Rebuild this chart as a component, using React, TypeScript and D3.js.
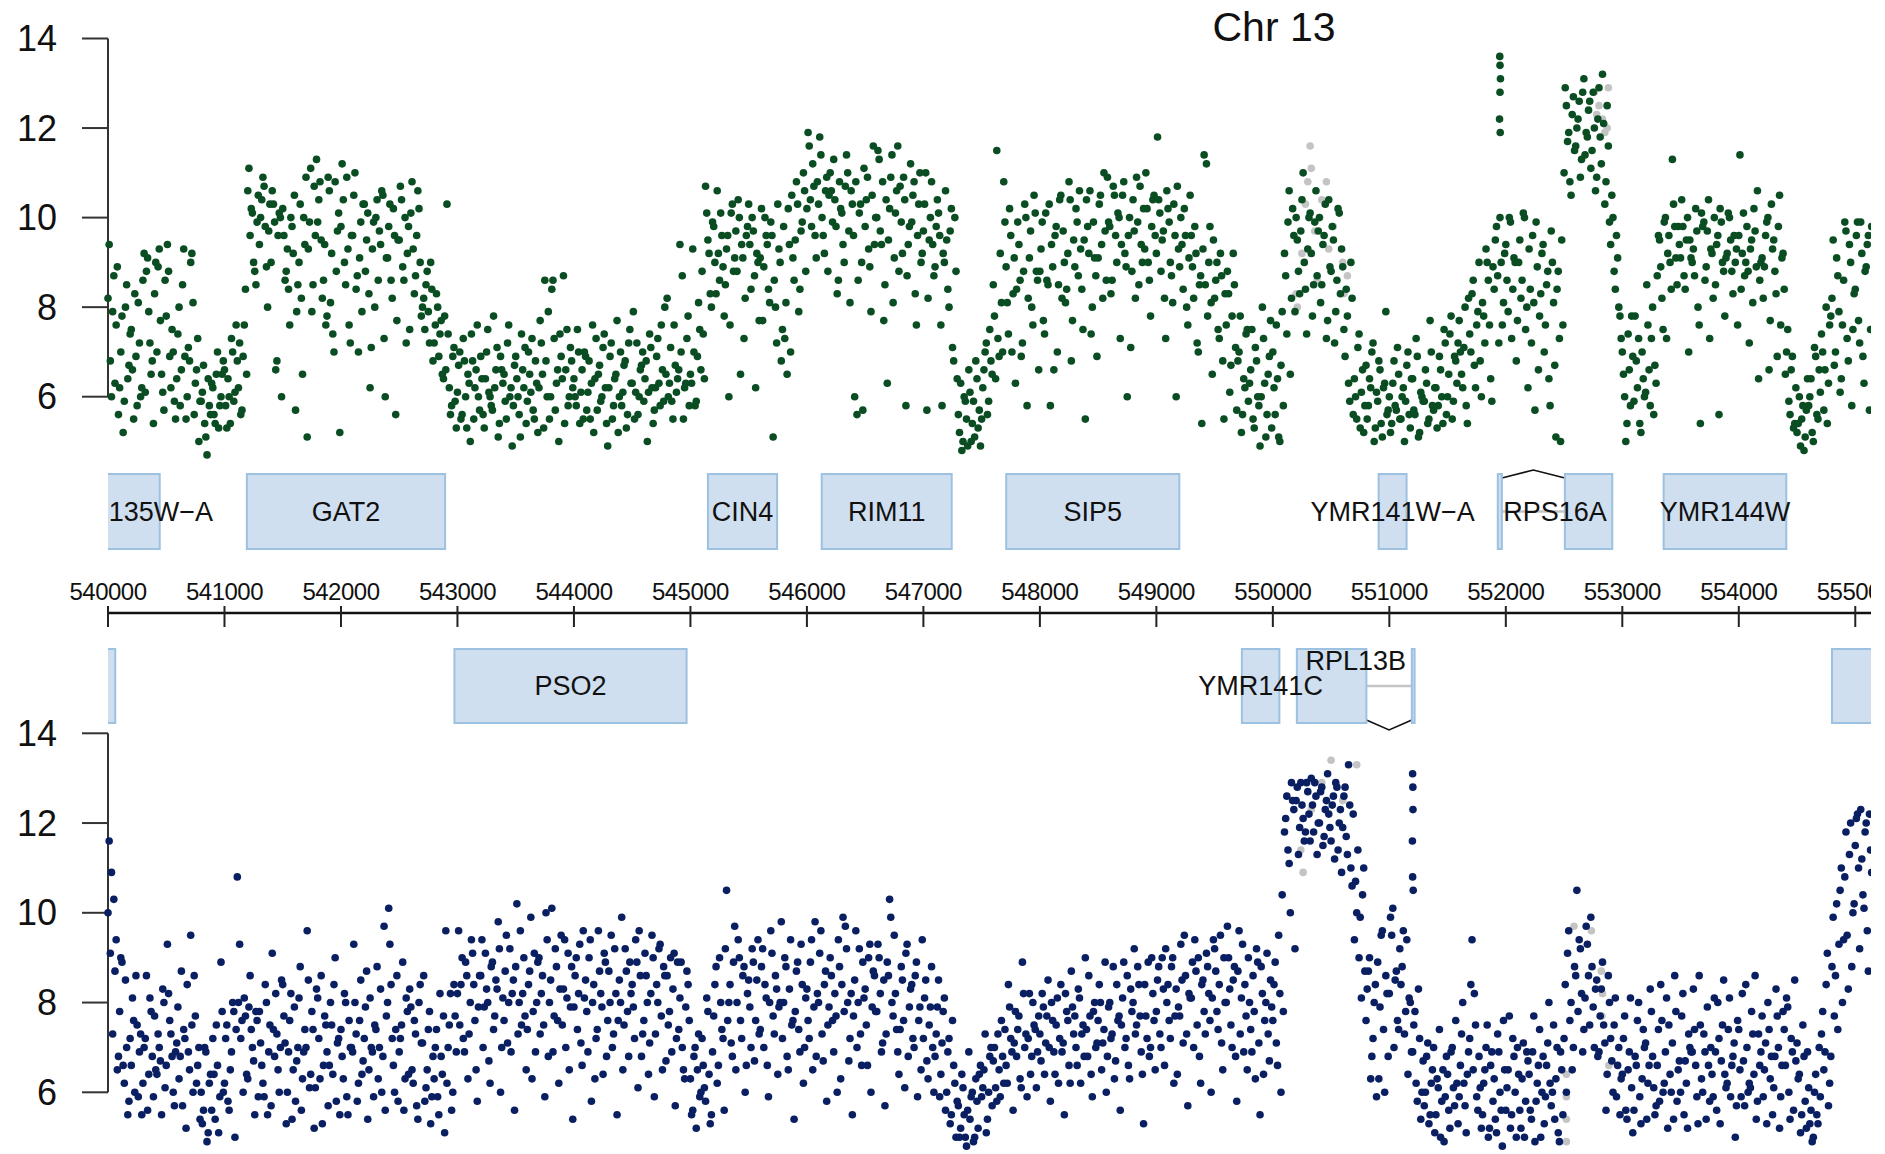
import React from "react";
import * as d3 from "d3";

// ---------- data ----------
const title = "Chr 13";
const xTickValues = [540000, 541000, 542000, 543000, 544000, 545000, 546000, 547000, 548000, 549000, 550000, 551000, 552000, 553000, 554000, 555000];
const yTickValues = [6, 8, 10, 12, 14];

// Watson strand (green) probe intensities, one array per 1 kb window, probe set A (odd grid)
const plus540 = [9.4,6.0,8.7,7.6,5.6, 7.0,5.2,8.0,6.4,7.4, 6.6,8.3,5.8,7.2,6.2, 9.2,8.8,7.9,6.5,5.4, 9.0,8.9,7.7,6.1,8.6, 9.4,6.9,7.5,5.9,6.4, 8.0,6.6,9.3,5.5,7.1, 9.0,8.1,6.3,7.3,5.9, 6.1,5.4,4.7,5.8,6.3, 5.6,6.5,5.3,6.0,6.8];
const plus541 = [5.8,6.4,5.4,7.0,6.1, 6.8,7.2,5.7,7.6,6.5, 11.1,10.2,9.0,8.5,10.5, 10.0,10.9,9.8,8.0,10.3, 10.6,9.9,6.8,10.1,6.0, 9.6,8.8,8.4,10.0,9.2, 5.7,8.5,10.3,6.5,9.4, 5.1,9.9,7.9,10.7,11.3, 10.4,9.5,8.6,7.6,10.9, 8.1,7.4,10.8,9.7,5.2];
const plus542 = [11.2,9.0,10.9,7.6,9.6, 10.5,8.4,7.0,9.9,10.3, 8.8,10.1,6.2,9.3,8.0, 10.4,9.7,10.6,7.3,9.1, 9.8,8.6,10.2,5.6,9.5, 10.7,8.9,10.0,9.2,7.5, 10.8,8.3,9.6,10.2,7.8, 8.2,8.5,7.9,9.0,6.8, 7.6,8.0,7.4,6.5,7.8, 10.3,6.2,5.8,7.1,5.3];
const plus543 = [6.7,5.5,7.3,6.0,6.5, 5.0,6.8,6.2,7.6,5.7, 6.4,5.3,7.0,6.1,5.8, 7.8,6.6,5.1,6.9,6.3, 5.9,7.2,6.0,4.9,6.7, 6.4,5.6,7.4,6.2,5.4, 7.0,6.1,5.7,6.8,5.2, 7.7,6.5,8.6,6.0,5.5, 8.4,7.3,6.3,5.0,6.9, 8.7,6.6,5.8,7.1,6.2];
const plus544 = [6.0,7.5,5.4,6.6,7.0, 5.7,6.8,6.3,5.2,7.3, 6.5,5.9,7.1,6.2,4.9, 6.9,5.5,6.4,7.7,6.0, 5.8,6.7,5.3,7.2,6.3, 7.9,6.1,5.6,6.6,7.0, 6.4,5.0,7.4,6.2,5.7, 6.9,6.3,7.6,5.9,6.5, 6.0,7.1,5.5,6.7,6.4, 9.4,8.7,6.2,7.3,5.8];
const plus545 = [6.3,7.0,5.9,8.1,6.6, 7.4,10.7,9.5,8.3,9.9, 9.0,10.6,8.6,9.6,7.8, 9.3,6.0,10.1,8.8,9.7, 10.4,6.5,9.1,8.2,9.8, 9.4,10.0,8.7,9.2,7.7, 10.2,8.9,9.6,8.4,9.9, 5.1,8.0,10.3,9.0,7.5, 7.3,6.5,9.4,10.5,8.6, 10.8,7.9,9.7,11.0,8.8];
const plus546 = [11.9,10.4,11.2,9.6,10.8, 11.8,10.0,9.2,10.9,10.5, 10.6,11.3,9.8,8.6,10.2, 9.4,10.7,11.0,8.1,10.3, 6.0,5.6,10.1,9.0,11.1, 10.4,9.3,7.9,11.6,10.0, 11.5,9.7,10.8,8.5,6.3, 10.2,11.4,9.1,10.6,8.8, 9.9,10.9,5.8,9.4,11.2, 10.5,8.3,9.6,11.0,9.2];
const plus547 = [10.3,5.7,9.5,10.8,8.7, 9.8,10.1,7.6,9.2,10.6, 8.4,9.7,7.1,10.0,6.4, 5.2,4.8,6.0,5.5,6.6, 5.0,5.9,6.8,5.3,4.9, 6.2,7.0,5.6,7.5,6.5, 7.8,11.5,6.9,8.1,10.8, 8.9,7.4,9.6,8.3,6.3, 9.9,8.6,7.2,10.3,5.8, 9.1,8.0,10.5,8.8,6.6];
const plus548 = [9.3,7.7,10.1,8.5,5.8, 8.9,9.6,7.0,10.4,8.2, 9.0,8.4,10.8,6.8,9.5, 10.2,8.7,9.3,7.5,5.5, 9.8,10.6,8.0,9.1,6.9, 10.3,9.4,11.0,8.6,9.9, 8.3,10.7,9.6,10.1,7.3, 10.5,9.2,6.0,10.0,8.8, 9.7,10.9,8.5,9.4,10.2, 11.0,9.0,7.8,10.4,9.6];
const plus549 = [11.8,10.1,9.5,8.2,10.6, 9.9,8.7,10.3,6.0,9.3, 10.0,8.4,9.6,7.6,10.5, 8.9,9.8,7.2,8.5,5.4, 11.4,11.2,9.0,8.1,9.5, 8.6,7.5,9.2,6.8,8.3, 8.8,6.1,7.8,8.5,5.7, 7.0,5.2,6.4,7.4,5.9, 6.6,5.5,7.1,6.0,4.9, 8.0,6.3,5.6,6.9,5.3];
const plus550 = [6.2,7.6,5.1,6.7,5.8, 8.7,9.9,6.5,10.2,7.9, 9.5,8.3,10.4,9.0,7.4, 10.0,9.2,8.5,10.6,9.7, 8.1,9.4,10.3,7.7,8.9, 9.8,7.2,8.6,10.1,9.3, 7.5,8.4,6.3,9.0,5.6, 6.0,7.1,5.3,6.6,5.8, 5.5,6.4,7.0,5.0,6.1, 6.8,5.4,6.2,7.9,5.7];
const plus551 = [5.2,6.3,5.8,7.1,5.5, 6.0,5.0,6.7,5.6,6.4, 5.7,7.3,5.1,6.1,5.9, 6.6,5.4,7.7,5.8,6.2, 5.3,6.9,6.0,7.5,5.6, 6.5,7.8,5.9,6.8,7.2, 7.0,6.2,8.0,5.4,7.4, 8.3,6.7,7.6,9.0,6.0, 7.8,9.3,8.6,6.4,8.9, 9.5,8.7,10.0,7.6,9.2];
const plus552 = [8.6,10.0,7.3,9.1,6.8, 9.0,8.2,10.1,7.5,6.2, 8.4,9.6,5.7,8.9,7.8, 9.2,7.0,8.5,6.4,9.7, 8.1,5.1,8.8,5.0,7.6, 12.9,11.7,10.8,12.3,11.5, 12.0,12.6,11.3,13.1,11.9, 12.4,11.1,12.8,10.6,12.2, 11.8,13.2,10.3,12.5,9.9, 10.5,8.8,9.6,8.0,7.3];
const plus553 = [6.5,5.0,7.4,5.8,6.9, 7.8,6.2,5.4,7.0,6.0, 8.5,6.6,7.3,5.6,6.3, 9.6,8.9,7.5,10.0,9.2, 9.0,11.3,9.8,8.5,9.4, 10.4,8.7,9.5,7.0,9.1, 9.3,10.2,8.0,5.4,9.8, 8.6,9.7,7.3,9.2,10.0, 9.4,5.6,9.9,8.8,9.1, 10.1,9.5,8.3,9.0,7.6];
const plus554 = [11.4,9.2,8.7,9.8,7.2, 9.5,10.2,8.9,6.4,9.0, 8.2,9.6,10.0,7.7,9.3, 8.8,6.9,10.5,9.1,8.4, 7.0,5.9,6.6,5.3,6.2, 5.4,4.9,5.8,5.1,6.4, 6.0,5.2,7.1,5.6,6.6, 7.4,5.7,8.0,6.3,7.8, 9.5,7.0,8.7,6.1,7.6, 9.9,7.3,9.4,5.8,8.3];
const plus555 = [9.6,7.7,9.9,6.9,8.8,9.4,5.7,9.8];

// Watson strand, probe set B (even grid)
const plus540b = [8.2,6.8,7.9,6.3,8.9, 6.2,7.8,5.9,8.5,6.7, 7.5,5.5,6.9,8.1,6.0, 8.6,6.1,9.1,7.2,6.8, 8.3,7.0,9.3,6.5,5.7, 7.8,8.8,6.2,7.0,5.5, 7.4,5.8,8.5,6.9,6.0, 6.8,9.2,5.6,6.6,5.0, 5.9,6.7,5.1,6.4,5.6, 6.2,5.4,7.0,5.8,6.5];
const plus541b = [6.6,5.3,6.0,7.3,5.9, 7.6,6.2,5.6,6.9,8.4, 10.6,9.6,10.1,8.8,9.9, 9.4,10.4,10.7,8.9,9.7, 9.0,10.3,6.6,9.6,10.0, 10.2,8.6,9.3,7.6,9.8, 10.5,7.9,9.0,8.2,10.0, 10.9,9.3,11.1,8.5,9.6, 9.9,10.8,8.2,9.4,7.8, 10.6,9.2,7.0,8.8,10.1];
const plus542b = [9.8,10.4,8.5,9.3,7.2, 9.6,11.0,8.7,9.1,7.9, 10.3,9.5,8.3,7.1,9.9, 10.0,8.6,9.4,10.5,6.0, 9.1,10.3,8.2,9.6,7.7, 9.5,10.4,8.6,7.2,9.8, 10.1,9.3,8.7,10.6,9.0, 8.0,7.5,8.8,7.2,8.4, 7.2,8.3,6.9,7.7,6.4, 6.6,7.4,5.6,6.9,5.9];
const plus543b = [6.1,7.0,5.6,6.8,5.3, 6.3,7.4,5.5,6.6,6.0, 6.9,5.6,6.4,7.5,6.0, 5.7,6.2,7.1,5.4,6.6, 6.5,5.5,7.6,6.2,5.8, 6.9,6.0,5.1,6.6,7.1, 5.9,6.5,7.3,5.5,6.3, 6.2,7.2,5.3,6.8,7.9, 6.0,8.6,5.7,6.6,7.4, 6.4,5.4,7.5,6.0,6.8];
const plus544b = [6.4,5.8,7.0,6.1,5.5, 6.9,6.1,5.5,7.6,6.4, 5.7,6.7,6.0,7.4,5.4, 6.2,7.2,5.8,6.5,5.2, 7.0,6.1,6.8,5.6,7.5, 6.3,5.5,7.2,6.0,6.7, 5.9,6.8,6.1,7.1,5.4, 6.2,7.3,5.8,6.6,8.0, 8.2,6.3,5.9,7.6,6.1, 6.6,7.0,5.5,6.3,7.8];
const plus545b = [6.5,9.3,5.8,6.9,7.5, 8.8,6.4,10.1,9.2,8.0, 9.8,8.3,9.2,10.1,8.9, 8.5,9.6,7.6,10.3,9.1, 8.8,10.0,9.4,7.3,9.6, 10.3,8.4,9.7,6.2,9.0, 9.1,7.7,10.0,9.4,8.1, 9.6,8.6,7.2,9.3,6.8, 9.8,8.1,10.2,7.0,9.1, 9.5,10.3,8.4,9.9,10.6];
const plus546b = [10.2,11.6,9.8,10.7,9.1, 10.3,11.4,9.6,10.6,8.8, 11.0,9.9,10.4,8.3,10.8, 10.1,9.0,11.4,9.7,10.6, 9.6,10.8,8.6,10.3,5.7, 9.8,10.9,8.9,10.5,9.4, 10.0,11.3,9.4,7.7,10.4, 9.5,10.9,8.1,10.1,11.6, 10.7,9.2,10.4,8.7,9.8, 9.9,10.8,7.6,10.3,9.0];
const plus547b = [9.7,11.0,8.2,10.0,9.4, 8.9,10.4,9.6,5.8,9.0, 9.5,8.0,10.2,6.8,8.8, 5.6,6.3,5.0,5.9,4.9, 6.1,5.4,5.1,6.4,5.7, 5.5,6.6,7.2,5.9,6.8, 8.5,6.4,7.3,9.2,7.0, 9.9,8.1,10.2,7.0,9.1, 8.4,9.4,6.9,8.8,10.0, 8.2,9.7,7.6,10.1,8.6];
const plus548b = [8.8,9.9,7.4,8.6,10.3, 9.4,6.6,9.8,8.5,10.5, 9.7,8.1,9.2,10.4,7.7, 8.9,9.9,10.6,8.4,9.5, 10.4,9.2,7.4,9.9,8.7, 9.1,10.5,8.2,9.7,10.9, 9.8,8.6,10.5,9.0,10.0, 9.4,10.8,8.9,9.6,7.1, 10.4,8.2,9.9,10.7,9.0, 9.3,10.2,8.6,9.8,10.5];
const plus549b = [9.2,10.4,8.8,9.7,7.3, 10.2,9.0,8.1,9.6,10.7, 8.9,9.4,10.2,8.0,9.1, 9.6,8.2,9.2,7.0,8.7, 9.3,8.5,7.8,9.8,6.5, 8.2,9.0,7.3,8.7,5.5, 7.6,8.3,6.7,9.2,7.1, 6.8,7.8,5.6,6.2,7.5, 6.3,7.5,5.3,6.8,5.8, 6.0,7.3,5.1,6.5,7.7];
const plus550b = [7.0,5.6,6.4,5.0,7.9, 9.2,7.4,10.6,8.2,9.6, 10.0,8.8,9.7,11.0,8.4, 9.3,10.1,7.8,9.9,8.7, 10.0,8.5,9.6,7.3,10.4, 8.8,9.5,7.9,10.2,8.3, 8.9,6.9,7.8,5.9,8.2, 6.4,5.5,7.4,6.1,5.2, 6.7,5.8,6.2,7.2,5.3, 5.9,6.6,5.1,6.3,5.6];
const plus551b = [6.0,5.4,6.8,5.7,6.5, 5.5,6.2,5.9,7.0,5.3, 6.4,5.6,6.9,5.2,6.0, 5.9,6.3,5.5,7.0,5.7, 6.2,5.8,6.6,5.4,7.2, 6.0,7.4,5.5,6.9,6.3, 7.7,6.5,7.1,5.8,8.2, 7.0,8.6,6.2,7.9,6.8, 8.1,7.2,9.0,7.6,5.9, 8.4,9.8,7.2,9.0,8.1];
const plus552b = [9.4,7.9,9.9,8.4,9.0, 7.7,9.5,8.6,10.0,8.0, 9.3,7.2,8.1,9.9,6.6, 8.3,9.4,7.6,8.8,5.8, 9.0,6.7,8.4,7.3,9.5, 11.0,12.5,11.9,10.5,12.7, 11.6,12.2,10.9,12.8,11.4, 11.8,12.6,11.5,12.0,10.9, 12.9,11.2,12.1,10.8,11.6, 9.4,10.0,8.4,9.1,7.8];
const plus553b = [7.0,6.0,5.4,6.6,7.8, 5.9,6.8,7.3,5.2,6.4, 6.1,7.6,5.8,8.0,6.7, 8.7,9.5,8.2,9.9,7.3, 9.6,8.4,10.3,9.1,9.8, 9.1,9.8,8.4,10.0,9.5, 9.0,8.7,9.7,7.6,10.1, 9.9,8.9,10.4,9.3,8.2, 8.5,9.6,10.2,9.0,7.8, 9.2,10.0,8.8,9.6,9.3];
const plus554b = [9.6,8.4,10.1,9.0,8.8, 9.3,8.1,9.7,10.6,8.6, 9.1,8.9,9.9,6.6,10.3, 9.5,8.3,9.8,7.6,9.2, 6.5,7.5,5.6,6.9,5.4, 5.2,6.0,5.5,4.8,5.7, 5.8,6.4,5.0,6.9,5.5, 6.1,7.0,6.6,5.4,7.6, 8.2,6.7,9.1,7.9,6.4, 8.6,9.7,6.8,9.0,7.5];
const plus555b = [8.4,9.9,7.2,9.2,6.3,8.9,9.6,7.5];

// Crick strand (navy) probe intensities, set A
const minus540 = [11.6,10.9,10.3,9.4,6.8, 9.0,6.6,8.5,5.5,7.2, 8.1,6.0,7.5,6.9,5.5, 7.0,8.6,6.4,7.8,5.9, 6.5,7.3,6.7,8.3,6.1, 9.3,7.6,6.8,5.7,7.1, 6.3,8.7,7.4,5.2,6.9, 9.5,6.0,7.7,6.6,5.4, 5.3,7.0,4.9,6.2,5.6, 6.4,7.5,5.1,8.9,6.0];
const minus541 = [7.2,5.8,6.5,8.0,5.0, 10.8,9.3,7.6,8.1,6.4, 7.9,7.4,6.7,7.8,5.9, 7.1,6.2,8.4,5.5,7.5, 9.1,6.8,7.3,6.0,8.5, 7.7,5.3,6.9,8.2,6.5, 5.8,7.0,8.8,6.3,7.4, 9.6,6.1,7.8,5.2,8.3, 7.2,8.6,6.6,7.5,5.7, 8.0,6.4,9.0,7.1,5.5];
const minus542 = [6.8,8.2,5.9,7.6,7.0, 9.3,7.3,6.2,8.5,6.7, 7.9,5.4,8.1,6.9,7.5, 8.8,7.0,6.0,9.7,7.7, 10.1,8.4,6.6,7.4,5.8, 7.2,8.9,6.3,7.8,8.3, 6.5,7.6,5.7,8.0,7.1, 8.6,6.1,7.4,5.3,6.8, 7.0,5.9,8.2,6.4,5.1, 6.2,7.5,5.6,8.4,6.9];
const minus543 = [9.6,8.4,7.2,8.9,6.3, 8.0,9.1,7.6,5.8,8.6, 9.4,7.9,8.3,6.7,8.8, 7.4,8.5,9.8,6.0,8.1, 8.7,7.1,9.2,8.2,5.6, 10.2,8.0,7.5,9.0,6.5, 8.4,9.9,7.8,6.9,8.9, 7.3,8.6,5.9,9.4,8.0, 10.1,7.7,8.8,6.2,9.5, 8.3,7.0,9.1,7.9,5.4];
const minus544 = [8.6,7.4,9.3,6.6,8.1, 7.8,9.0,5.8,8.4,7.2, 9.6,8.2,6.4,8.9,7.6, 8.0,7.0,9.2,5.5,8.5, 9.9,7.5,8.7,6.8,8.2, 7.9,9.4,6.1,8.6,7.3, 9.1,8.0,7.1,9.5,5.9, 8.4,9.2,7.7,8.8,6.7, 7.5,9.0,8.3,5.7,8.9, 8.1,7.0,6.3,8.7,7.6];
const minus545 = [5.5,6.8,5.2,7.3,6.0, 6.6,5.8,7.8,5.3,6.9, 8.4,6.2,9.0,7.4,5.6, 10.5,8.0,7.1,8.9,6.5, 9.4,7.6,8.6,6.0,8.2, 7.9,9.2,6.7,8.5,7.3, 8.8,7.0,8.1,5.9,9.6, 7.7,8.6,6.4,8.0,7.2, 9.0,6.8,8.3,7.5,5.4, 8.7,7.4,9.3,6.2,8.1];
const minus546 = [7.6,8.9,6.5,9.8,8.2, 9.1,7.3,8.4,5.8,7.9, 8.6,6.9,7.7,9.4,6.3, 9.9,9.7,8.0,7.2,5.5, 8.5,7.0,9.2,6.6,8.1, 7.5,9.0,6.0,8.7,7.8, 9.3,8.2,7.1,5.7,8.9, 10.3,8.0,9.5,7.4,6.4, 8.8,7.6,9.1,6.8,8.3, 7.2,8.6,5.9,7.9,9.4];
const minus547 = [8.1,6.7,7.5,8.8,6.0, 7.3,8.5,6.4,7.8,5.6, 6.9,5.3,7.6,6.2,5.8, 5.0,6.4,5.5,4.8,6.9, 5.9,4.9,6.3,5.2,6.6, 6.1,7.3,5.4,6.8,5.7, 7.0,5.8,6.5,7.6,6.2, 6.6,8.4,7.2,5.6,7.8, 7.4,6.3,8.9,7.0,5.9, 8.2,6.8,7.5,6.1,7.7];
const minus548 = [6.7,7.9,7.1,8.5,5.8, 7.6,6.4,8.1,7.2,6.9, 5.5,7.8,6.6,8.7,7.3, 7.0,8.3,6.2,7.5,9.0, 6.8,7.7,5.9,8.0,7.1, 8.4,6.5,7.4,6.0,7.9, 7.2,8.8,6.7,7.6,5.6, 8.1,7.0,8.6,6.3,7.8, 9.2,7.5,8.4,6.9,5.3, 7.7,8.9,7.0,8.2,6.5];
const minus549 = [8.5,7.3,9.0,6.6,8.0, 7.6,8.8,6.2,8.3,7.9, 9.3,7.1,8.6,5.7,8.1, 8.9,9.4,7.5,6.8,8.4, 7.8,9.1,8.2,6.0,9.4, 8.7,7.4,9.5,6.5,8.0, 9.7,8.3,7.0,8.8,5.8, 9.6,8.1,6.9,7.7,9.0, 7.4,8.6,6.3,8.9,5.5, 8.2,7.6,9.1,6.7,7.9];
const minus550 = [8.4,7.1,9.5,6.0,7.8, 12.1,11.4,10.0,12.5,9.2, 12.8,11.9,12.4,11.6,12.9, 12.2,13.0,11.8,12.6,12.0, 12.7,11.5,12.3,13.1,11.9, 12.4,11.2,12.8,12.0,10.9, 12.6,11.7,13.3,11.0,12.2, 10.7,11.4,9.9,10.4,8.7, 8.3,9.0,6.8,8.0,5.9, 6.3,9.5,7.4,8.6,6.8];
const minus551 = [9.9,10.1,8.5,7.6,9.2, 8.8,7.3,9.4,8.1,6.9, 7.5,6.2,8.3,5.4,6.7, 6.0,7.1,5.5,6.5,5.1, 6.3,7.4,5.8,4.9,6.8, 5.6,6.9,6.1,7.6,5.3, 6.6,8.0,5.7,6.4,7.2, 9.4,8.2,5.9,6.8,5.2, 6.2,7.0,5.0,6.6,5.8, 5.4,7.3,6.0,4.8,6.5];
const minus552 = [6.1,7.7,5.5,6.8,5.0, 6.4,5.2,7.1,5.8,6.7, 5.6,6.9,4.9,6.2,7.4, 6.0,5.3,6.6,8.0,5.7, 7.5,6.3,5.1,6.9,5.5, 8.4,9.1,7.6,6.5,8.8, 10.5,9.4,8.2,7.4,9.7, 8.6,9.9,7.9,8.3,6.8, 7.7,8.9,7.1,6.4,8.0, 6.7,7.5,5.9,7.0,6.3];
const minus553 = [7.2,5.6,6.5,8.1,5.1, 6.8,7.6,5.9,6.3,7.0, 5.4,6.6,7.8,6.1,5.7, 7.4,8.4,6.0,6.9,5.2, 6.4,7.1,8.6,5.8,6.7, 7.7,5.5,6.2,7.3,6.9, 8.3,6.6,5.3,7.5,6.0, 6.9,7.9,5.8,6.4,8.1, 5.6,7.2,6.7,8.5,6.1, 7.4,5.9,6.8,5.0,7.6];
const minus554 = [6.5,8.2,5.7,7.0,6.2, 7.8,6.4,5.4,7.3,6.9, 5.9,7.1,8.0,6.3,5.5, 6.8,7.7,5.2,6.6,7.4, 8.1,6.0,7.2,5.6,6.7, 6.3,5.1,7.5,5.8,6.9, 5.3,4.9,6.0,5.5,7.0, 7.3,6.5,8.4,5.7,6.8, 9.9,8.6,7.4,10.5,8.0, 10.8,9.5,11.3,8.8,10.2];
const minus555 = [12.1,11.0,12.3,10.4,11.8,9.6,12.2,10.9];

// Crick strand, probe set B
const minus540b = [10.0,9.1,7.3,8.7,6.5, 7.8,8.9,6.2,7.0,5.8, 6.6,7.6,8.6,5.9,7.3, 6.2,7.2,5.6,8.1,6.8, 7.7,6.4,7.0,5.5,8.0, 6.6,8.2,7.3,6.0,6.9, 7.9,6.8,5.7,7.2,8.4, 6.5,7.5,8.6,6.2,7.0, 6.0,5.6,6.9,5.1,6.4, 7.2,5.4,6.6,5.9,7.8];
const minus541b = [6.2,7.5,5.6,6.9,7.8, 7.4,8.0,7.2,6.0,7.7, 6.3,8.6,7.0,5.5,7.6, 7.8,6.6,5.9,8.0,6.9, 5.7,7.4,8.2,6.5,7.0, 8.4,7.1,6.0,7.6,5.4, 7.9,6.7,8.1,5.6,6.9, 7.0,8.5,6.4,7.4,6.1, 8.1,6.3,5.3,7.7,6.9, 6.6,7.5,8.4,5.8,7.2];
const minus542b = [7.4,6.3,8.0,5.5,7.0, 6.9,8.0,5.8,7.6,6.4, 7.2,8.7,6.5,7.0,5.9, 7.4,6.3,8.3,6.8,5.6, 8.0,9.3,7.2,6.0,8.6, 6.9,7.5,5.6,8.1,6.4, 7.9,6.2,7.3,5.4,8.4, 7.1,5.8,6.5,7.8,5.9, 6.3,7.4,5.5,6.8,7.7, 9.6,7.0,8.2,6.0,7.7];
const minus543b = [8.2,7.5,9.0,6.9,8.6, 7.3,9.4,8.4,6.5,7.9, 8.6,7.0,9.1,8.0,6.2, 8.9,7.7,8.3,9.2,7.0, 7.6,9.5,8.0,6.9,8.5, 8.8,7.3,9.6,8.2,7.7, 7.4,8.7,6.3,9.1,8.0, 9.0,8.2,7.5,10.0,6.8, 8.5,6.9,9.2,7.6,8.3, 7.5,9.4,8.1,6.5,8.8];
const minus544b = [7.9,9.0,8.2,7.1,9.6, 8.5,6.9,9.4,8.0,6.3, 7.4,8.7,7.9,9.1,6.8, 8.7,9.5,7.3,8.2,7.6, 8.0,6.5,9.2,7.8,8.9, 8.4,7.2,8.9,9.6,6.8, 7.6,8.6,6.4,8.2,9.0, 7.3,8.0,9.3,6.5,8.6, 8.6,7.8,6.9,9.1,7.2, 7.4,8.9,6.5,7.9,8.4];
const minus545b = [6.3,5.6,7.0,6.5,5.9, 7.2,6.1,8.1,6.4,5.5, 7.7,8.8,6.6,8.0,7.2, 9.2,7.6,8.4,6.8,9.7, 8.0,9.0,7.2,8.8,6.6, 8.5,7.0,8.9,7.6,9.4, 7.4,9.2,8.4,6.6,8.0, 9.1,7.3,8.3,7.9,9.8, 8.0,8.8,6.5,9.4,7.6, 7.8,8.9,6.9,8.4,7.0];
const minus546b = [8.3,7.2,9.4,7.9,6.8, 8.0,9.6,6.7,8.7,7.5, 9.0,7.6,8.2,6.0,8.8, 8.4,7.8,9.2,6.7,8.2, 7.7,9.6,8.0,7.3,8.9, 8.3,6.6,9.3,7.9,8.6, 7.8,9.0,6.9,8.5,7.3, 8.6,9.9,7.7,8.2,6.9, 7.4,8.5,6.1,9.3,7.9, 8.4,7.0,8.9,7.6,6.5];
const minus547b = [7.2,8.5,6.3,7.9,7.0, 6.8,7.9,5.9,7.1,8.1, 6.0,7.2,5.5,6.6,5.0, 5.7,5.2,6.1,5.0,5.6, 5.4,6.0,5.0,5.8,6.4, 5.9,6.5,5.1,6.0,7.0, 6.7,6.1,7.3,5.9,6.8, 7.4,6.2,7.9,6.9,7.1, 6.8,7.7,6.1,8.2,7.3, 7.2,6.4,8.0,7.4,6.9];
const minus548b = [7.3,8.2,6.4,7.7,7.0, 8.0,6.9,7.5,6.2,8.4, 7.1,8.2,7.6,6.2,7.9, 7.7,6.6,8.1,7.3,6.8, 7.4,8.6,6.4,7.8,7.0, 7.6,8.0,7.1,8.9,6.8, 8.0,7.3,6.3,8.4,7.7, 7.5,8.9,7.2,6.6,8.3, 8.0,7.3,8.8,7.7,6.4, 8.4,7.2,6.8,9.0,7.6];
const minus549b = [7.8,8.8,7.0,8.3,9.2, 8.4,7.2,9.0,7.7,6.4, 7.7,8.5,9.5,7.3,8.2, 8.1,7.0,8.7,9.0,6.2, 8.5,7.3,8.8,7.6,8.1, 9.2,7.8,8.4,7.1,9.0, 8.0,9.0,7.5,8.5,6.8, 8.7,7.3,9.3,8.4,6.5, 8.0,6.9,7.8,9.2,7.1, 8.8,6.4,8.0,7.3,8.5];
const minus550b = [7.6,8.9,6.6,8.2,10.4, 11.8,12.6,11.1,12.9,12.3, 12.5,11.3,12.9,12.1,11.8, 12.7,11.6,12.4,12.9,11.3, 12.0,12.8,11.7,12.5,12.2, 11.6,12.6,12.9,11.4,12.3, 11.9,12.8,11.3,12.4,10.6, 9.4,10.0,9.0,8.1,11.0, 7.6,8.7,6.3,7.2,8.4, 8.9,7.9,9.6,6.0,8.2];
const minus551b = [8.2,9.5,7.0,8.7,7.4, 8.4,9.6,7.8,6.4,8.0, 6.9,7.8,5.8,7.2,6.0, 5.7,6.8,5.3,6.2,7.0, 5.5,6.1,5.0,6.5,5.9, 6.4,5.2,7.0,5.7,6.2, 5.9,7.3,6.2,5.1,6.9, 8.4,6.5,7.5,5.6,6.1, 5.5,6.5,7.5,5.2,6.9, 6.3,5.1,6.9,5.6,7.6];
const minus552b = [5.6,6.5,5.2,7.2,6.0, 7.0,5.6,6.3,5.0,6.9, 6.4,5.4,7.7,5.8,6.6, 5.0,6.8,5.9,7.1,6.2, 6.0,5.4,7.0,4.9,6.5, 7.2,6.0,9.6,8.0,7.0, 8.6,7.8,9.2,6.9,8.1, 9.3,7.5,8.8,7.0,8.5, 6.9,8.3,7.5,5.6,8.6, 7.2,6.0,8.1,6.6,5.5];
const minus553b = [6.4,7.7,5.4,6.9,6.1, 5.6,6.6,8.0,5.3,7.4, 7.1,6.2,8.3,6.8,5.5, 6.6,5.8,7.6,6.2,8.1, 7.5,6.0,5.4,7.8,6.5, 6.0,8.2,6.7,5.2,7.0, 6.9,7.4,5.9,8.6,6.3, 7.3,5.4,6.6,7.0,5.9, 6.9,8.0,5.3,7.5,6.4, 6.2,8.1,6.6,7.1,5.7];
const minus554b = [7.4,5.9,6.7,8.4,6.0, 6.1,7.3,8.6,5.8,6.6, 7.7,6.5,5.3,7.4,6.8, 6.1,8.3,7.0,5.9,7.8, 6.6,7.9,5.4,6.9,8.5, 7.1,6.4,5.5,6.8,5.2, 6.1,5.6,5.0,6.4,5.3, 5.9,7.8,6.9,9.1,6.2, 8.8,7.7,10.2,9.3,11.0, 9.4,11.8,8.3,12.0,10.0];
const minus555b = [11.5,12.2,9.2,11.2,10.1,12.0,8.7,11.4];

// individually placed probes: [position, intensity]
const plusStreak = [[551948, 13.6], [551950, 13.4], [551954, 13.1], [551950, 12.8], [551946, 12.2], [551952, 11.9]];
const minusStreak = [[551200, 13.1], [551202, 12.8], [551203, 12.3], [551198, 11.6], [551200, 10.8], [551205, 10.5]];
const plusGrey = [[550320, 11.6], [550330, 11.1], [550300, 10.8], [550280, 10.3], [550250, 9.2], [550200, 8.3], [550210, 8.0], [550460, 10.8], [550420, 10.4], [550520, 9.8], [550600, 9.0], [550640, 8.7], [550610, 8.3], [550360, 9.7], [550480, 9.3], [550380, 8.6], [552760, 12.8], [552800, 12.5], [552830, 12.2], [552880, 12.9], [552870, 12.0], [552850, 11.9], [552780, 12.3]];
const minusGrey = [[550240, 11.4], [550500, 13.4], [550720, 13.3], [550330, 12.3], [550420, 12.9], [550600, 12.5], [550260, 10.9], [552585, 9.7], [552735, 9.6], [552820, 8.7], [552830, 8.2], [552825, 7.7], [552885, 6.6], [552520, 6.4], [552520, 5.9], [552520, 5.4], [552520, 4.9]];

// gene annotation
const watsonGenes = [
  { name: "YMR135W−A", exons: [[539950, 540444]] },
  { name: "GAT2", exons: [[541192, 542894]] },
  { name: "CIN4", exons: [[545150, 545744]] },
  { name: "RIM11", exons: [[546127, 547243]] },
  { name: "SIP5", exons: [[547711, 549197]] },
  { name: "YMR141W−A", exons: [[550908, 551148]] },
  { name: "RPS16A", exons: [[551931, 551966], [552507, 552914]] },
  { name: "YMR144W", exons: [[553355, 554408]] },
];
const crickGenes = [
  { name: "GID8", exons: [[539000, 540062]] },
  { name: "PSO2", exons: [[542974, 544967]] },
  { name: "YMR141C", exons: [[549734, 550056]] },
  { name: "RPL13B", exons: [[550206, 550803], [551193, 551217]] },
  { name: "YMR145C", exons: [[554800, 557000]] },
];

const plusWindowsA = [plus540, plus541, plus542, plus543, plus544, plus545, plus546, plus547, plus548, plus549, plus550, plus551, plus552, plus553, plus554, plus555];
const plusWindowsB = [plus540b, plus541b, plus542b, plus543b, plus544b, plus545b, plus546b, plus547b, plus548b, plus549b, plus550b, plus551b, plus552b, plus553b, plus554b, plus555b];
const minusWindowsA = [minus540, minus541, minus542, minus543, minus544, minus545, minus546, minus547, minus548, minus549, minus550, minus551, minus552, minus553, minus554, minus555];
const minusWindowsB = [minus540b, minus541b, minus542b, minus543b, minus544b, minus545b, minus546b, minus547b, minus548b, minus549b, minus550b, minus551b, minus552b, minus553b, minus554b, minus555b];

const FONT = "'Liberation Sans', Arial, Helvetica, sans-serif";
const GREEN = "#0a4d22";
const NAVY = "#0a1f62";
const GREY = "#c4c4c4";
const BOX_FILL = "#cfdff0";
const BOX_STROKE = "#9dc1e1";

// probes lie on a regular grid inside each 1 kb window; set A and set B are interleaved
function toPoints(windows: number[][], offset: number) {
  const pts: [number, number][] = [];
  const end = 555150;
  windows.forEach((vals, k) => {
    const start = xTickValues[0] + k * 1000;
    const span = Math.min(1000, end - start);
    vals.forEach((v, j) => pts.push([start + ((j + offset) * span) / vals.length, v]));
  });
  return pts;
}

export default function App() {
  const W = 1885;
  const H = 1154;
  const x = d3.scaleLinear().domain([540000, 555135]).range([108, 1871]);
  const yTop = d3.scaleLinear().domain([6, 14]).range([396.7, 38.5]);
  const yBot = d3.scaleLinear().domain([6, 14]).range([1092.3, 733.3]);

  const plusPts = toPoints(plusWindowsB, 0).concat(toPoints(plusWindowsA, 0.5), plusStreak as [number, number][]);
  const minusPts = toPoints(minusWindowsB, 0).concat(toPoints(minusWindowsA, 0.5), minusStreak as [number, number][]);

  const axisY = 613;
  const r = 3.8;
  const [xMin, xMax] = x.range();

  const yAxis = (y: d3.ScaleLinear<number, number>, key: string) => (
    <g key={key}>
      <line x1={108} x2={108} y1={y(14)} y2={y(6)} stroke="#333" strokeWidth={2} />
      {yTickValues.map((t) => (
        <g key={t}>
          <line x1={82} x2={108} y1={y(t)} y2={y(t)} stroke="#333" strokeWidth={2} />
          <text x={57} y={y(t)} textAnchor="end" dominantBaseline="central" fontSize={36} fill="#111" fontFamily={FONT}>
            {t}
          </text>
        </g>
      ))}
    </g>
  );

  const geneTrack = (genes: typeof watsonGenes, top: number, bottom: number, up: boolean, key: string) => {
    const mid = (top + bottom) / 2;
    return (
      <g key={key} clipPath="url(#geneClip)">
        {genes.map((g) => {
          const introns = g.exons.slice(1).map((e, i) => [g.exons[i][1], e[0]]);
          return (
            <g key={g.name}>
              {introns.map(([a, b], i) => {
                const xa = x(a), xb = x(b), xm = (xa + xb) / 2;
                const ye = up ? top + 4 : bottom - 3;
                const yp = up ? top - 4 : bottom + 7;
                return (
                  <g key={i}>
                    <line x1={xa} x2={xb} y1={mid} y2={mid} stroke={GREY} strokeWidth={2.5} />
                    <polyline points={`${xa},${ye} ${xm},${yp} ${xb},${ye}`} fill="none" stroke="#111" strokeWidth={1.6} />
                  </g>
                );
              })}
              {g.exons.map(([a, b], i) => (
                <rect key={i} x={x(a)} y={top} width={Math.max(2, Math.min(x(b), xMax + 5) - x(a))} height={bottom - top} fill={BOX_FILL} stroke={BOX_STROKE} strokeWidth={2} />
              ))}
            </g>
          );
        })}
        {genes
          .filter((g) => {
            const c = x((g.exons[0][0] + g.exons[g.exons.length - 1][1]) / 2);
            return c > xMin - 40 && c < xMax;
          })
          .map((g) => {
            const gs = g.exons[0][0];
            const ge = g.exons[g.exons.length - 1][1];
            const lift = g.name === "RPL13B" ? 25 : 0;
            return (
              <text key={"t" + g.name} x={x((gs + ge) / 2)} y={mid - lift} textAnchor="middle" dominantBaseline="central" fontSize={27} fill="#111" fontFamily={FONT}>
                {g.name}
              </text>
            );
          })}
      </g>
    );
  };

  return (
    <svg width={W} height={H} style={{ position: "absolute", left: 0, top: 0, background: "#fff" }} fontFamily={FONT}>
      <defs>
        <clipPath id="plotClip">
          <rect x={103} y={0} width={1871 - 103} height={H} />
        </clipPath>
        <clipPath id="geneClip">
          <rect x={108} y={0} width={1871 - 108} height={H} />
        </clipPath>
        <clipPath id="axisClip">
          <rect x={0} y={0} width={1871} height={H} />
        </clipPath>
      </defs>
      <rect width={W} height={H} fill="#fff" />

      <text x={1274} y={27} textAnchor="middle" dominantBaseline="central" fontSize={41} fill="#111">
        {title}
      </text>

      {yAxis(yTop, "ytop")}
      {yAxis(yBot, "ybot")}

      <g clipPath="url(#plotClip)">
        {plusGrey.map(([p, v], i) => (
          <circle key={"pg" + i} cx={x(p)} cy={yTop(v)} r={r} fill={GREY} />
        ))}
        {plusPts.map(([p, v], i) => (
          <circle key={"p" + i} cx={x(p)} cy={yTop(v)} r={r} fill={GREEN} />
        ))}
        {minusGrey.map(([p, v], i) => (
          <circle key={"mg" + i} cx={x(p)} cy={yBot(v)} r={r} fill={GREY} />
        ))}
        {minusPts.map(([p, v], i) => (
          <circle key={"m" + i} cx={x(p)} cy={yBot(v)} r={r} fill={NAVY} />
        ))}
      </g>

      {geneTrack(watsonGenes, 474, 549, true, "wg")}
      {geneTrack(crickGenes, 649, 723, false, "cg")}

      <g clipPath="url(#axisClip)">
        <line x1={108} x2={1871} y1={axisY} y2={axisY} stroke="#111" strokeWidth={2.5} />
        {xTickValues.map((t) => (
          <g key={t}>
            <line x1={x(t)} x2={x(t)} y1={axisY - 7} y2={axisY + 14} stroke="#222" strokeWidth={2} />
            <text x={x(t)} y={600} textAnchor="middle" fontSize={24} fill="#111" letterSpacing={-0.5}>
              {t}
            </text>
          </g>
        ))}
      </g>
    </svg>
  );
}
